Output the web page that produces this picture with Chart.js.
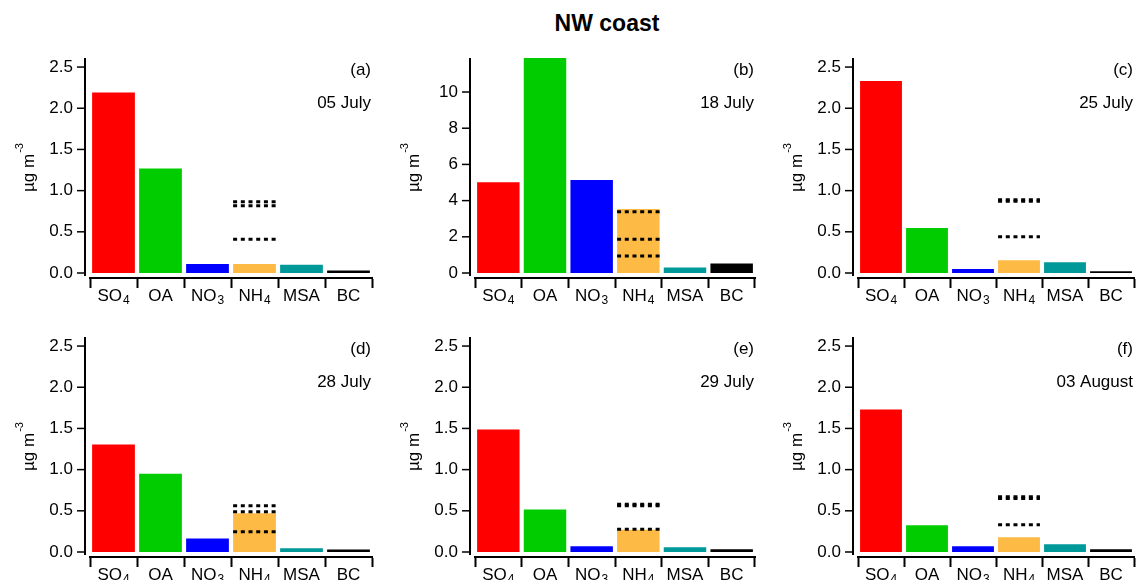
<!DOCTYPE html>
<html>
<head>
<meta charset="utf-8">
<title>NW coast</title>
<script src="https://cdn.jsdelivr.net/npm/chart.js@4.4.1/dist/chart.umd.min.js"></script>
<style>
    body { margin: 0; width: 1138px; height: 580px; overflow: hidden; background: #fff; position: relative;
           font-family: 'Liberation Sans', Arial, sans-serif; }
    #title { position: absolute; left: 457px; top: 10px; width: 300px; text-align: center;
             font-weight: bold; font-size: 23px; line-height: 26px; color: #000; }
    .panel { position: absolute; height: 260px; }
</style>
</head>
<body>
<div id="title">NW coast</div>
<div class="panel" style="left:0px;top:48px;width:380px"><canvas id="pa"></canvas></div>
<div class="panel" style="left:385px;top:48px;width:378px"><canvas id="pb"></canvas></div>
<div class="panel" style="left:768px;top:48px;width:370px"><canvas id="pc"></canvas></div>
<div class="panel" style="left:0px;top:327px;width:380px"><canvas id="pd"></canvas></div>
<div class="panel" style="left:385px;top:327px;width:378px"><canvas id="pe"></canvas></div>
<div class="panel" style="left:768px;top:327px;width:370px"><canvas id="pf"></canvas></div>
<script>
// species order: SO4, OA, NO3, NH4, MSA, BC  (µg m-3)
const species = ['SO₄', 'OA', 'NO₃', 'NH₄', 'MSA', 'BC'];
// same names split so the subscript can be drawn smaller and lower
const speciesMain = ['SO', 'OA', 'NO', 'NH', 'MSA', 'BC'];
const speciesSub = ['4', '', '3', '4', '', ''];

const conc05Jul = [2.19, 1.27, 0.11, 0.11, 0.10, 0.03];
const conc18Jul = [5.01, 11.9, 5.14, 3.53, 0.31, 0.53];
const conc25Jul = [2.33, 0.545, 0.05, 0.155, 0.13, 0.02];
const conc28Jul = [1.305, 0.95, 0.165, 0.47, 0.045, 0.03];
const conc29Jul = [1.487, 0.515, 0.07, 0.27, 0.057, 0.033];
const conc03Aug = [1.73, 0.325, 0.07, 0.18, 0.094, 0.033];

// dotted NH4 reference levels drawn across the NH4 bar
const nh4Lvl05Jul = [0.866, 0.816, 0.41];
const nh4Lvl18Jul = [3.39, 1.86, 0.94];
const nh4Lvl25Jul = [0.89, 0.87, 0.44];
const nh4Lvl28Jul = [0.56, 0.49, 0.245];
const nh4Lvl29Jul = [0.58, 0.56, 0.275];
const nh4Lvl03Aug = [0.67, 0.65, 0.33];

const panelTags = ['(a)', '(b)', '(c)', '(d)', '(e)', '(f)'];
const panelDates = ['05 July', '18 July', '25 July', '28 July', '29 July', '03 August'];

const yTicksLow = [0, 0.5, 1, 1.5, 2, 2.5];
const yTicksHigh = [0, 2, 4, 6, 8, 10];

const speciesColors = ['#ff0000', '#00cc00', '#0000ff', '#fdbb45', '#009999', '#000000'];
const FONT = "'Liberation Sans', Arial, sans-serif";

Chart.defaults.font.family = FONT;
Chart.defaults.font.size = 17;
Chart.defaults.color = '#000';

function panelChart(id, values, levels, tag, date, yTicks, yMax, rightPad) {

    const decor = {
        id: 'decor',
        afterDatasetsDraw(chart) {
            const ctx = chart.ctx;
            const area = chart.chartArea;
            const ys = chart.scales.y;
            const xs = chart.scales.x;
            const bar = chart.getDatasetMeta(0).data[3];
            ctx.save();

            // dotted NH4 levels
            ctx.strokeStyle = '#000';
            ctx.lineWidth = 3;
            ctx.setLineDash([4, 3.7]);
            levels.forEach(v => {
                const py = ys.getPixelForValue(v);
                ctx.beginPath();
                ctx.moveTo(bar.x - bar.width / 2, py);
                ctx.lineTo(bar.x + bar.width / 2, py);
                ctx.stroke();
            });
            ctx.setLineDash([]);

            // y axis line and tick marks, set a little left of the plot
            const ax = area.left - 5;
            ctx.lineWidth = 2;
            ctx.beginPath();
            ctx.moveTo(ax, area.top);
            ctx.lineTo(ax, area.bottom - 2);
            ctx.stroke();
            ctx.lineWidth = 1.5;
            ys.ticks.forEach(t => {
                const py = ys.getPixelForValue(t.value);
                ctx.beginPath();
                ctx.moveTo(ax - 8, py);
                ctx.lineTo(ax, py);
                ctx.stroke();
            });

            // category labels with subscripts
            ctx.fillStyle = '#000';
            ctx.textBaseline = 'alphabetic';
            ctx.textAlign = 'left';
            speciesMain.forEach((name, i) => {
                const cx = xs.getPixelForValue(i);
                ctx.font = '17px ' + FONT;
                const wm = ctx.measureText(name).width;
                ctx.font = '12px ' + FONT;
                const ws = speciesSub[i] ? ctx.measureText(speciesSub[i]).width + 1 : 0;
                const x0 = cx - (wm + ws) / 2;
                ctx.font = '17px ' + FONT;
                ctx.fillText(name, x0, area.bottom + 23);
                if (speciesSub[i]) {
                    ctx.font = '12px ' + FONT;
                    ctx.fillText(speciesSub[i], x0 + wm + 1, area.bottom + 26);
                }
            });

            // panel tag and date
            ctx.font = '17px ' + FONT;
            ctx.textAlign = 'right';
            ctx.fillText(tag, area.right - 1, area.top + 17);
            ctx.fillText(date, area.right - 1, area.top + 50);

            // y title with superscript
            const main = 'µg m';
            const sup = '-3';
            ctx.font = '17px ' + FONT;
            const w1 = ctx.measureText(main).width;
            ctx.font = '11px ' + FONT;
            const w2 = ctx.measureText(sup).width;
            const cy = (area.top + area.bottom) / 2;
            ctx.translate(area.left - 56, cy);
            ctx.rotate(-Math.PI / 2);
            ctx.textAlign = 'left';
            ctx.font = '17px ' + FONT;
            ctx.fillText(main, -(w1 + w2) / 2, 0);
            ctx.font = '11px ' + FONT;
            ctx.fillText(sup, -(w1 + w2) / 2 + w1 + 1, -11);

            ctx.restore();
        }
    };

    const data = {
        labels: species,
        datasets: [{
                data: values,
                backgroundColor: speciesColors,
                borderWidth: 0,
                barPercentage: 0.91,
                categoryPercentage: 1
            }]
    };
    const config = {
        type: 'bar',
        data: data,
        options: {
            responsive: true,
            maintainAspectRatio: false,
            animation: false,
            layout: {padding: {top: 10, right: rightPad, left: 0, bottom: 0}},
            plugins: {legend: {display: false}, tooltip: {enabled: false}},
            scales: {
                x: {
                    grid: {display: true, drawOnChartArea: false, drawTicks: true, tickLength: 10,
                        tickWidth: 2, color: '#000', offset: true},
                    border: {display: true, color: '#000', width: 2},
                    ticks: {display: false, autoSkip: false},
                    afterFit: s => { s.height = 30; s.paddingLeft = 0; s.paddingRight = 0; }
                },
                y: {
                    min: -yMax * 5 / 215,
                    max: yMax,
                    grid: {display: false, drawTicks: false, tickLength: 0},
                    border: {display: false},
                    ticks: {
                        padding: 17,
                        color: '#000',
                        callback: v => yTicks === yTicksHigh ? String(v) : v.toFixed(1)
                    },
                    afterBuildTicks: s => { s.ticks = yTicks.map(v => ({value: v})); },
                    afterFit: s => { s.width = 90; s.paddingTop = 0; s.paddingBottom = 0; }
                }
            }
        },
        plugins: [decor]
    };

    let idChart = document.getElementById(id).getContext("2d")
    new Chart(idChart, config);
}

panelChart('pa', conc05Jul, nh4Lvl05Jul, panelTags[0], panelDates[0], yTicksLow, 2.61, 8);
panelChart('pb', conc18Jul, nh4Lvl18Jul, panelTags[1], panelDates[1], yTicksHigh, 11.88, 8);
panelChart('pc', conc25Jul, nh4Lvl25Jul, panelTags[2], panelDates[2], yTicksLow, 2.61, 4);
panelChart('pd', conc28Jul, nh4Lvl28Jul, panelTags[3], panelDates[3], yTicksLow, 2.61, 8);
panelChart('pe', conc29Jul, nh4Lvl29Jul, panelTags[4], panelDates[4], yTicksLow, 2.61, 8);
panelChart('pf', conc03Aug, nh4Lvl03Aug, panelTags[5], panelDates[5], yTicksLow, 2.61, 4);
</script>
</body>
</html>
